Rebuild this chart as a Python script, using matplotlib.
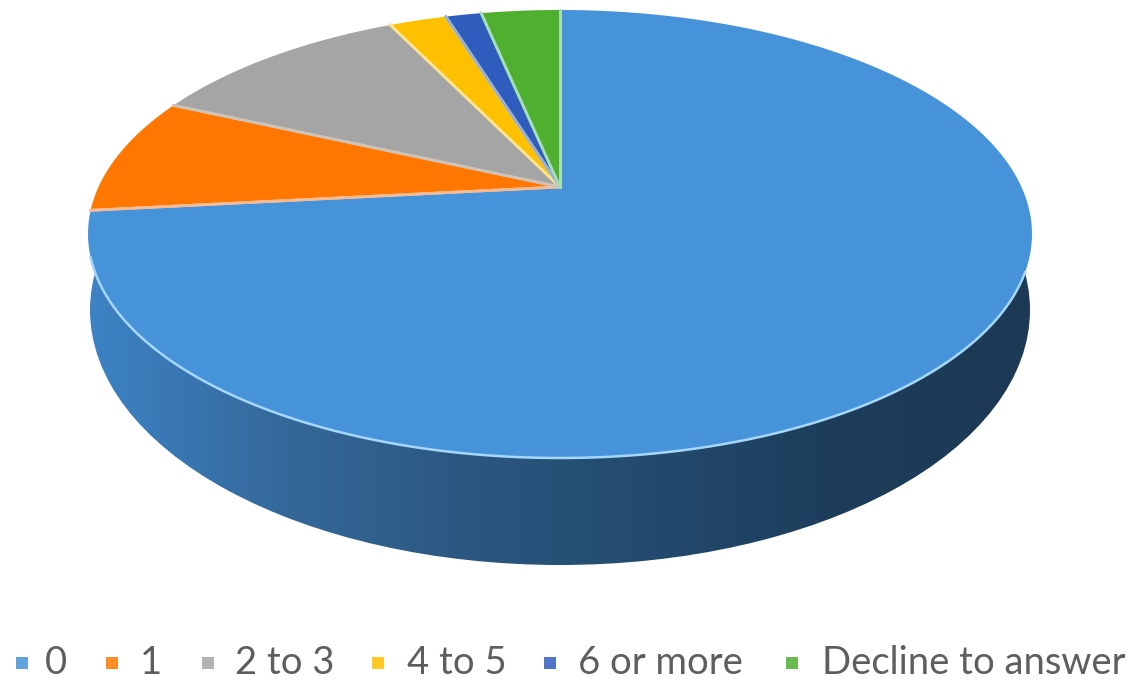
import matplotlib.pyplot as plt
from matplotlib.colors import LinearSegmentedColormap
from matplotlib.patches import Ellipse
import numpy as np

categories = ['0', '1', '2 to 3', '4 to 5', '6 or more', 'Decline to answer']
shares = [73.3, 8.5, 11.0, 2.4, 1.5, 3.3]
colors = ['#4693d9', '#ff7700', '#a5a5a5', '#ffc000', '#2f5dbd', '#4fb030']
edges = ['#a6d8ff', '#ffb98a', '#c9c4bc', '#ffe58a', '#8fb0e0', '#a6e0b0']
legend_mark_x = [22, 112, 208, 378, 550, 792]
legend_text_x = [45, 140, 235, 407, 578, 822]

CX, CY, RX, RY = 560, 234, 472, 224
TILT = 0.21  # moves the pie centre up, perspective of the 3d pie


def project(t):
    # t is clockwise from 12 o'clock, circle -> perspective ellipse
    u, v = np.sin(t), np.cos(t)
    d = 1 + TILT * v
    x = u * np.sqrt(1 - TILT ** 2) / d
    y = (v + TILT) / d
    return CX + RX * x, CY - RY * y


fig = plt.figure(figsize=(11.31, 6.81), dpi=100)
ax = fig.add_axes([0, 0, 1, 1])

# side wall with the dark gradient
side_cmap = LinearSegmentedColormap.from_list(
    'side', ['#3c82c4', '#35699b', '#2b5780', '#234a6e', '#1d3d5a', '#1c3a55'])
grad = np.linspace(0, 1, 400).reshape(1, -1)
im = ax.imshow(grad, cmap=side_cmap, extent=[90, 1030, 681, 0], aspect='auto', zorder=1)
clip = Ellipse((560, 310), 940, 510, transform=ax.transData, facecolor='none', edgecolor='none')
ax.add_patch(clip)
im.set_clip_path(clip)
ax.set_xlim(0, 1131)
ax.set_ylim(681, 0)
ax.axis('off')

# top face
apex_x, apex_y = CX, CY - RY * TILT
fracs = np.array(shares) / sum(shares)
stops = np.concatenate([[0], np.cumsum(fracs)]) * 2 * np.pi
for i in range(len(shares)):
    t = np.linspace(stops[i], stops[i + 1], 200)
    x, y = project(t)
    ax.fill(np.r_[apex_x, x], np.r_[apex_y, y], color=colors[i], lw=0, zorder=2)
for i in range(len(shares)):
    t = np.linspace(stops[i], stops[i + 1], 200)
    x, y = project(t)
    ax.plot(np.r_[apex_x, x[0]], np.r_[apex_y, y[0]], color=edges[i], lw=2, zorder=3)
    ax.plot(np.r_[apex_x, x[-1]], np.r_[apex_y, y[-1]], color=edges[i], lw=2, zorder=3)

# light rim only on the front of the pie
t = np.linspace(np.pi * 0.62, np.pi * 1.40, 300)
x, y = project(t)
ax.plot(x, y, color='#a6d8ff', lw=1.8, zorder=4)

# legend
for i, name in enumerate(categories):
    ax.scatter(legend_mark_x[i], 663, marker='s', s=80, color=colors[i], lw=0, alpha=0.85, zorder=5)
    ax.text(legend_text_x[i], 663, name, family='Lato', fontsize=27.5, color='#5e5e5e',
            ha='left', va='center', zorder=5)

fig.savefig('out.png', dpi=100)
